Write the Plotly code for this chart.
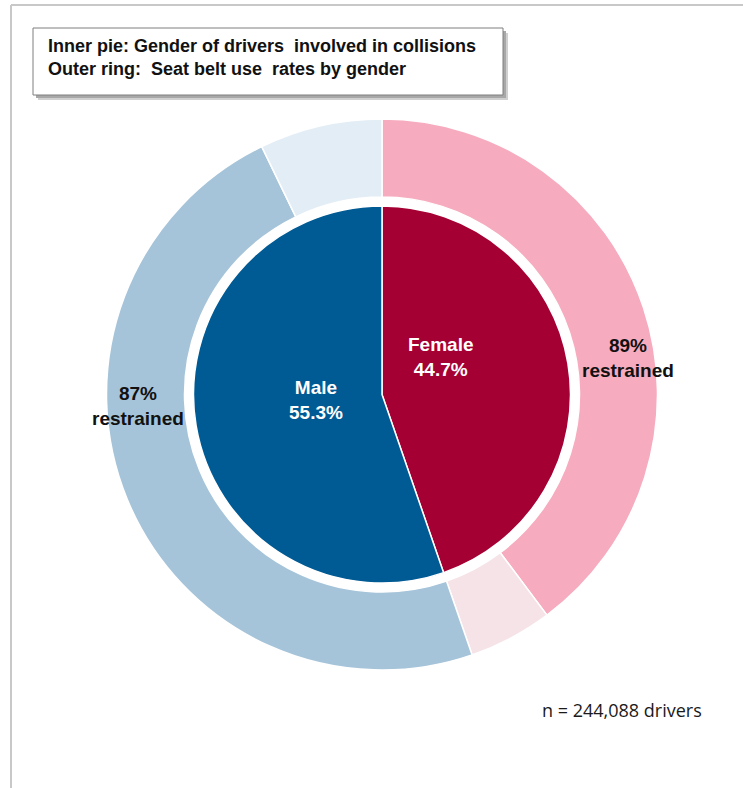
import plotly.graph_objects as go

# Gender split of drivers involved in collisions (percent)
genders = ["Female", "Male"]
gender_share = [44.7, 55.3]
# Seat belt use (percent restrained) within each gender
restrained_rate = [89, 87]
n_drivers = "244,088"

inner_colors = ["#A50034", "#005A94"]
outer_colors = ["#F6ABBE", "#F5E3E8", "#A6C4D9", "#E3EDF5"]

W, H = 743, 788

# Outer ring: restrained / unrestrained share of each gender slice
outer_labels, outer_values = [], []
for g, share, rate in zip(genders, gender_share, restrained_rate):
    outer_labels += [f"{g} restrained", f"{g} unrestrained"]
    outer_values += [share * rate / 100, share * (100 - rate) / 100]


def px_x(x):
    return x / W


def px_y(y):
    return 1 - y / H


cx, cy = 382, 394.5
r_out, r_hole, r_in = 275.5, 197.5, 188.5

fig = go.Figure()
fig.add_trace(go.Pie(
    labels=outer_labels, values=outer_values, sort=False, direction="clockwise",
    rotation=0, hole=r_hole / r_out, textinfo="none", hoverinfo="label+percent",
    marker=dict(colors=outer_colors, line=dict(color="white", width=1.5)),
    domain=dict(x=[px_x(cx - r_out), px_x(cx + r_out)],
                y=[px_y(cy + r_out), px_y(cy - r_out)]),
    showlegend=False,
))
fig.add_trace(go.Pie(
    labels=genders, values=gender_share, sort=False, direction="clockwise",
    rotation=0, textinfo="none", hoverinfo="label+percent",
    marker=dict(colors=inner_colors, line=dict(color="white", width=1.5)),
    domain=dict(x=[px_x(cx - r_in), px_x(cx + r_in)],
                y=[px_y(cy + r_in), px_y(cy - r_in)]),
    showlegend=False,
))

annotations = []
bold = "Liberation Sans, Arial, sans-serif"


def note(x, y, text, color, size=19, family=bold, xanchor="center", align="center"):
    annotations.append(dict(
        x=px_x(x), y=px_y(y), xref="paper", yref="paper", text=text,
        showarrow=False, xanchor=xanchor, yanchor="middle", align=align,
        font=dict(family=family, size=size, color=color),
    ))


# Inner pie labels
note(441, 357, f"<b>{genders[0]}<br>{gender_share[0]}%</b>", "white")
note(316, 400, f"<b>{genders[1]}<br>{gender_share[1]}%</b>", "white")
# Outer ring labels
note(628, 358, f"<b>{restrained_rate[0]}%<br>restrained</b>", "#111111")
note(138, 406, f"<b>{restrained_rate[1]}%<br>restrained</b>", "#111111")
# Sample size
note(622, 710, f"n = {n_drivers} drivers", "#1a1a1a", size=18, family="Open Sans, sans-serif")
# Key box text
note(46, 57, "<b>Inner pie: Gender of drivers  involved in collisions<br>"
     "Outer ring:  Seat belt use  rates by gender</b>", "#111111", size=18,
     xanchor="left", align="left")

shapes = [
    # frame
    dict(type="line", xref="paper", yref="paper", x0=px_x(11), x1=1.01,
         y0=px_y(5), y1=px_y(5), line=dict(color="#C8C8C8", width=2)),
    dict(type="line", xref="paper", yref="paper", x0=px_x(11), x1=px_x(11),
         y0=px_y(5), y1=-0.01, line=dict(color="#C8C8C8", width=2)),
    # key box soft shadow and box
    dict(type="rect", xref="paper", yref="paper", x0=px_x(38), x1=px_x(508),
         y0=px_y(100), y1=px_y(33), fillcolor="#D0D0D0", line=dict(width=0)),
    dict(type="rect", xref="paper", yref="paper", x0=px_x(36), x1=px_x(506),
         y0=px_y(98), y1=px_y(31), fillcolor="#A8A8A8", line=dict(width=0)),
    dict(type="rect", xref="paper", yref="paper", x0=px_x(33), x1=px_x(503),
         y0=px_y(95), y1=px_y(28), fillcolor="white", line=dict(color="#7F7F7F", width=1)),
]

fig.update_layout(
    width=W, height=H, margin=dict(l=0, r=0, t=0, b=0),
    paper_bgcolor="white", plot_bgcolor="white",
    annotations=annotations, shapes=shapes,
)

fig.write_html("out.html")
